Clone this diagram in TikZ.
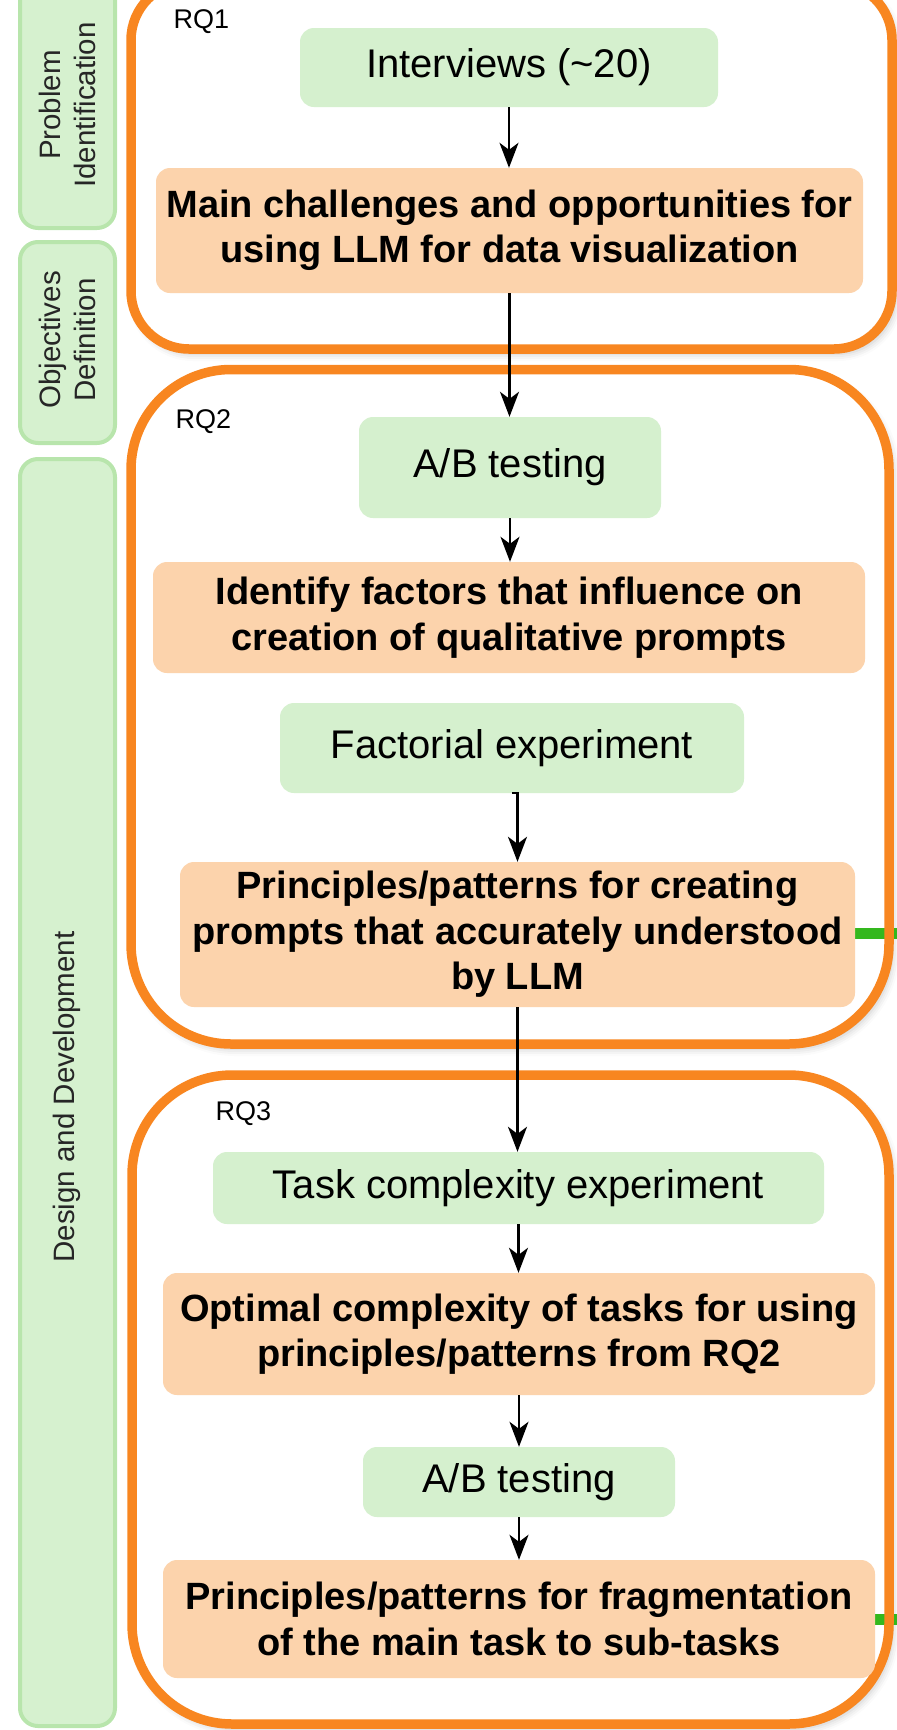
\documentclass[tikz,border=0pt]{standalone}
\usepackage{fontspec}
\setmainfont{Liberation Sans}
\usetikzlibrary{arrows.meta,shadows.blur}
\definecolor{gfill}{RGB}{213,240,206}
\definecolor{ofill}{RGB}{252,211,172}
\definecolor{obord}{RGB}{248,134,32}
\definecolor{barfill}{RGB}{214,241,207}
\definecolor{barbord}{RGB}{184,229,172}
\definecolor{gline}{RGB}{52,184,30}
\pgfdeclarelayer{bg}\pgfdeclarelayer{mid}\pgfsetlayers{bg,mid,main}
\begin{document}
\begin{tikzpicture}[x=1pt,y=-1pt,
 gbox/.style={fill=gfill, rounded corners=14pt, inner sep=0pt, align=center, font=\fontsize{40}{46}\selectfont},
 obox/.style={fill=ofill, rounded corners=14pt, inner sep=0pt, align=center, font=\fontsize{38}{45.5}\selectfont\bfseries},
 arr/.style={draw=black, line width=2.2pt, -{Stealth[length=25pt,width=19pt,inset=7pt]}},
 cont/.style={draw=obord, line width=9.5pt},
 contbg/.style={fill=white, blur shadow={shadow xshift=4pt, shadow yshift=-5pt, shadow blur radius=7pt, shadow opacity=22}},
 bar/.style={fill=barfill, draw=barbord, line width=4pt, rounded corners=18pt},
 side/.style={rotate=90, align=center, font=\fontsize{29.5}{35}\selectfont, text=black!85},
 rq/.style={anchor=west, font=\fontsize{27}{30}\selectfont},
 glink/.style={draw=gline, line width=11pt}]

\useasboundingbox (0,0) rectangle (897,1730);
\clip (0,0) rectangle (897,1730);

% side bars
\draw[bar] (20,-40) rectangle (115,228);
\draw[bar] (20,242) rectangle (115,443);
\draw[bar] (20,459) rectangle (115,1726);
\node[side] (pi) at (67,105) {Problem\\Identification};
\node[side] (od) at (67,340) {Objectives\\Definition};
\node[side] (dd) at (67,1097) {Design and Development};

% nodes
\node[gbox, minimum width=418pt, minimum height=79pt] (int) at (509,67.5) {Interviews (\textasciitilde20)};
\node[obox, minimum width=707pt, minimum height=125pt] (main) at (509.5,230.5) {Main challenges and opportunities for\\using LLM for data visualization};

\node[gbox, minimum width=302pt, minimum height=101pt] (ab1) at (510,467.5) {A/B testing};
\node[obox, minimum width=712pt, minimum height=111pt] (ident) at (509,617.5) {Identify factors that influence on\\creation of qualitative prompts};
\node[gbox, minimum width=464pt, minimum height=90pt] (fact) at (512,748) {Factorial experiment};
\node[obox, minimum width=675pt, minimum height=145pt] (prin) at (517.5,934.5) {Principles/patterns for creating\\prompts that accurately understood\\by LLM};

\node[gbox, minimum width=611pt, minimum height=72pt] (task) at (518.5,1188) {Task complexity experiment};
\node[obox, minimum width=712pt, minimum height=122pt] (opt) at (519,1334) {Optimal complexity of tasks for using\\principles/patterns from RQ2};
\node[gbox, minimum width=312pt, minimum height=70pt] (ab2) at (519,1482) {A/B testing};
\node[obox, minimum width=712pt, minimum height=118pt] (frag) at (519,1619) {Principles/patterns for fragmentation\\of the main task to sub-tasks};

\node[rq] (rq1) at (170,22) {RQ1};
\node[rq] (rq2) at (172,422) {RQ2};
\node[rq] (rq3) at (212,1114) {RQ3};

\coordinate (g1) at (905,933);
\coordinate (g2) at (905,1619);

\begin{pgfonlayer}{bg}
 \fill[contbg, rounded corners=58pt] (131,-18) rectangle (892,349);
 \fill[contbg, rounded corners=100pt] (131,369.5) rectangle (889,1044);
 \fill[contbg, rounded corners=100pt] (132,1075) rectangle (889,1724);
\end{pgfonlayer}
\begin{pgfonlayer}{mid}
 \draw[glink] (prin.east |- g1) -- (g1);
 \draw[glink] (frag.east) -- (g2);
 \draw[cont, rounded corners=58pt] (131,-18) rectangle (892,349);
 \draw[cont, rounded corners=100pt] (131,369.5) rectangle (889,1044);
 \draw[cont, rounded corners=100pt] (132,1075) rectangle (889,1724);
\end{pgfonlayer}

% connectors
\draw[arr] (int.south) -- (int.south |- main.north);
\draw[arr] (main.south) -- (main.south |- ab1.north);
\draw[arr] (ab1.south) -- (ab1.south |- ident.north);
\draw[arr] (fact.south) -| (prin.north);
\draw[arr] (prin.south) -- (prin.south |- task.north);
\draw[arr] (task.south) -- (task.south |- opt.north);
\draw[arr] (opt.south) -- (opt.south |- ab2.north);
\draw[arr] (ab2.south) -- (ab2.south |- frag.north);
\end{tikzpicture}
\end{document}
